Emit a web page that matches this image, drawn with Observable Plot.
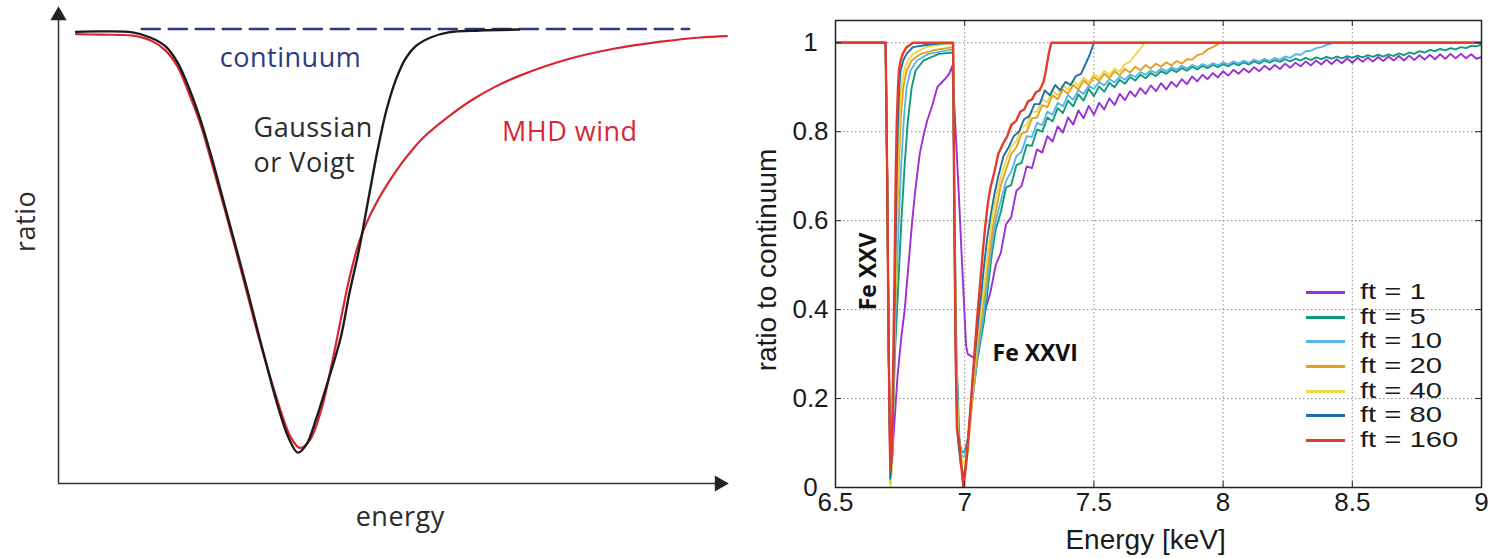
<!DOCTYPE html>
<html><head><meta charset="utf-8">
<script src="https://cdn.jsdelivr.net/npm/d3@7"></script>
<script src="https://cdn.jsdelivr.net/npm/@observablehq/plot@0.6"></script>
<style>
body{margin:0;background:#fff;}
#wrap{position:relative;width:1492px;height:558px;overflow:hidden;background:#fff;}
#left{position:absolute;left:0;top:0;}
#right{position:absolute;left:740px;top:0;}
#legend{position:absolute;left:1306px;top:280px;font-family:"Liberation Sans",Arial,sans-serif;font-size:21.5px;color:#1a1a1a;}
.row{display:flex;align-items:center;height:24.7px;line-height:24.7px;white-space:nowrap;}
.sw{width:39px;height:3px;margin-right:15px;flex:none;}
.lab{display:inline-block;transform:scaleX(1.36);transform-origin:0 50%;}
</style></head><body>
<div id="wrap"><div id="left"></div><div id="right"></div><div id="legend"></div></div>
<script>
// ---------- Left panel (schematic) ----------
const schematicDomain = [0, 100];
const gaussianProfile = [[2.65,96.5],[6.35,96.6],[11.2,96.4],[13.9,95.3],[16.2,93.4],[18.0,90.0],[19.8,84.3],[21.5,77.6],[23.3,69.0],[25.1,59.6],[26.9,50.2],[28.7,40.6],[30.4,31.2],[31.9,23.1],[33.3,16.0],[34.8,9.8],[36.2,6.6],[37.5,8.3],[39.0,13.9],[40.8,22.0],[42.7,31.2],[44.0,40.6],[45.5,50.2],[46.9,60.9],[48.3,71.4],[49.6,79.7],[51.1,86.5],[52.5,90.8],[54.0,93.4],[56.3,95.3],[59.0,96.4],[63.8,96.8],[69.7,97.0]];
const windProfile = [[2.65,96.0],[6.35,95.9],[11.2,95.7],[13.9,94.7],[16.2,92.5],[18.0,89.1],[19.7,83.5],[21.5,76.7],[23.3,67.9],[25.1,58.8],[26.9,49.4],[28.7,39.7],[30.4,30.6],[32.1,22.4],[33.6,15.6],[35.1,10.0],[36.5,7.6],[38.0,9.2],[39.8,16.0],[41.3,25.2],[42.7,35.0],[44.0,43.8],[45.5,51.7],[46.9,56.6],[48.3,60.5],[50.1,64.7],[51.9,68.4],[53.7,71.6],[55.4,74.2],[59.0,78.4],[62.6,82.0],[66.1,84.8],[69.7,87.1],[76.9,90.6],[84.0,92.9],[91.1,94.4],[97.1,95.3],[101.1,95.6]];
const continuumLine = [[12.6,97.1],[95.4,97.1]];

// ---------- Right panel (spectra) ----------
const ftLabels = ["ft = 1","ft = 5","ft = 10","ft = 20","ft = 40","ft = 80","ft = 160"];
const ftColors = ["#9a2fd6","#0f9a78","#5ab6e6","#e3a020","#ecd84a","#1d6fa8","#e33b2c"];
const xTicks = [6.5,7,7.5,8,8.5,9];
const xTickLabels = ["6.5","7","7.5","8","8.5","9"];
const yTicks = [0,0.2,0.4,0.6,0.8,1];
const yTickLabels = ["0","0.2","0.4","0.6","0.8","1"];
const xGrid = [7,7.5,8,8.5];
const yGrid = [0.2,0.4,0.6,0.8,1];

const ft1 = [[6.5,1],[6.694,1],[6.700,0.7],[6.706,0.3],[6.713,0.01],[6.725,0.12],[6.74,0.25],[6.755,0.34],[6.768,0.4],[6.775,0.45],[6.786,0.525],[6.797,0.6],[6.81,0.675],[6.826,0.75],[6.84,0.79],[6.855,0.825],[6.875,0.86],[6.894,0.9],[6.91,0.91],[6.926,0.92],[6.94,0.93],[6.952,0.948],[6.965,0.8],[6.978,0.65],[6.99,0.5],[6.997,0.42],[7.005,0.32],[7.012,0.3],[7.04,0.29],[7.055,0.33],[7.07,0.374],[7.085,0.41],[7.10,0.44],[7.12,0.50],[7.14,0.528],[7.16,0.592],[7.18,0.608],[7.20,0.667],[7.22,0.678],[7.24,0.722],[7.26,0.718],[7.28,0.76],[7.30,0.753],[7.32,0.79],[7.34,0.778],[7.36,0.812],[7.38,0.798],[7.40,0.832],[7.42,0.816],[7.44,0.848],[7.46,0.83],[7.48,0.858],[7.50,0.838],[7.52,0.865],[7.54,0.85],[7.56,0.875],[7.58,0.86],[7.60,0.885],[7.62,0.871],[7.64,0.891],[7.66,0.879],[7.68,0.898],[7.70,0.885],[7.72,0.904],[7.74,0.891],[7.76,0.909],[7.78,0.895],[7.80,0.912],[7.82,0.901],[7.84,0.918],[7.86,0.907],[7.88,0.924],[7.90,0.913],[7.92,0.928],[7.94,0.918],[7.96,0.932],[7.98,0.922],[8.00,0.936],[8.02,0.926],[8.04,0.939],[8.06,0.93],[8.08,0.942],[8.10,0.933],[8.12,0.945],[8.14,0.936],[8.16,0.948],[8.18,0.939],[8.20,0.95],[8.22,0.941],[8.24,0.953],[8.26,0.944],[8.28,0.955],[8.30,0.947],[8.32,0.958],[8.34,0.949],[8.36,0.96],[8.38,0.951],[8.40,0.962],[8.42,0.952],[8.44,0.963],[8.46,0.954],[8.48,0.965],[8.50,0.955],[8.52,0.966],[8.54,0.957],[8.56,0.967],[8.58,0.958],[8.60,0.968],[8.62,0.959],[8.64,0.969],[8.66,0.96],[8.68,0.97],[8.70,0.96],[8.72,0.971],[8.74,0.961],[8.76,0.972],[8.78,0.962],[8.80,0.973],[8.82,0.963],[8.84,0.974],[8.86,0.964],[8.88,0.975],[8.90,0.965],[8.92,0.975],[8.94,0.965],[8.96,0.974],[8.98,0.964],[9.0,0.968]];
const ft5 = [[6.5,1],[6.694,1],[6.700,0.7],[6.706,0.3],[6.713,0.05],[6.72,0.1],[6.73,0.3],[6.74,0.42],[6.755,0.6],[6.767,0.72],[6.78,0.825],[6.795,0.9],[6.81,0.937],[6.84,0.96],[6.9,0.975],[6.955,0.978],[6.96,0.65],[6.968,0.3],[6.98,0.1],[6.99,0.08],[7.0,0.08],[7.012,0.11],[7.03,0.2],[7.05,0.29],[7.075,0.375],[7.09,0.45],[7.105,0.525],[7.12,0.58],[7.14,0.62],[7.16,0.675],[7.18,0.68],[7.20,0.725],[7.22,0.73],[7.24,0.77],[7.26,0.768],[7.28,0.805],[7.30,0.8],[7.32,0.832],[7.34,0.823],[7.36,0.853],[7.38,0.842],[7.40,0.87],[7.42,0.857],[7.44,0.884],[7.46,0.87],[7.48,0.896],[7.50,0.88],[7.52,0.902],[7.54,0.89],[7.56,0.91],[7.58,0.9],[7.60,0.917],[7.62,0.908],[7.64,0.923],[7.66,0.915],[7.68,0.928],[7.70,0.92],[7.72,0.932],[7.74,0.925],[7.76,0.936],[7.78,0.93],[7.80,0.94],[7.82,0.934],[7.84,0.943],[7.86,0.937],[7.88,0.946],[7.90,0.94],[7.92,0.948],[7.94,0.943],[7.96,0.95],[7.98,0.945],[8.00,0.952],[8.02,0.947],[8.04,0.954],[8.06,0.949],[8.08,0.956],[8.10,0.951],[8.12,0.958],[8.14,0.953],[8.16,0.96],[8.18,0.955],[8.20,0.961],[8.22,0.957],[8.24,0.963],[8.26,0.958],[8.28,0.964],[8.30,0.96],[8.32,0.966],[8.34,0.961],[8.36,0.967],[8.38,0.963],[8.40,0.968],[8.42,0.964],[8.44,0.969],[8.46,0.965],[8.48,0.97],[8.50,0.966],[8.52,0.971],[8.54,0.967],[8.56,0.972],[8.58,0.968],[8.60,0.973],[8.62,0.969],[8.64,0.974],[8.66,0.97],[8.68,0.976],[8.70,0.972],[8.72,0.978],[8.74,0.975],[8.76,0.981],[8.78,0.978],[8.80,0.984],[8.82,0.981],[8.84,0.986],[8.86,0.983],[8.88,0.988],[8.90,0.985],[8.92,0.99],[8.94,0.988],[8.96,0.993],[8.98,0.992],[9.0,0.996]];
const ft10 = [[6.5,1],[6.694,1],[6.700,0.7],[6.706,0.3],[6.713,0.03],[6.72,0.08],[6.728,0.3],[6.735,0.45],[6.745,0.6],[6.754,0.72],[6.764,0.825],[6.775,0.9],[6.79,0.937],[6.815,0.96],[6.86,0.975],[6.955,0.985],[6.96,0.65],[6.967,0.3],[6.978,0.1],[6.99,0.07],[7.0,0.07],[7.012,0.1],[7.03,0.2],[7.05,0.3],[7.07,0.375],[7.085,0.45],[7.10,0.525],[7.12,0.6],[7.14,0.645],[7.16,0.69],[7.18,0.71],[7.20,0.745],[7.22,0.755],[7.24,0.79],[7.26,0.788],[7.28,0.82],[7.30,0.815],[7.32,0.845],[7.34,0.838],[7.36,0.865],[7.38,0.857],[7.40,0.882],[7.42,0.872],[7.44,0.893],[7.46,0.885],[7.48,0.903],[7.50,0.896],[7.52,0.912],[7.54,0.904],[7.56,0.918],[7.58,0.911],[7.60,0.924],[7.62,0.917],[7.64,0.929],[7.66,0.923],[7.68,0.934],[7.70,0.928],[7.72,0.938],[7.74,0.932],[7.76,0.942],[7.78,0.936],[7.80,0.945],[7.82,0.939],[7.84,0.948],[7.86,0.942],[7.88,0.95],[7.90,0.945],[7.92,0.952],[7.94,0.947],[7.96,0.954],[7.98,0.949],[8.00,0.956],[8.02,0.951],[8.04,0.958],[8.06,0.953],[8.08,0.96],[8.10,0.955],[8.12,0.962],[8.14,0.957],[8.16,0.964],[8.18,0.959],[8.20,0.966],[8.22,0.962],[8.24,0.969],[8.26,0.966],[8.28,0.974],[8.30,0.973],[8.32,0.981],[8.34,0.982],[8.36,0.988],[8.38,0.99],[8.40,0.995],[8.43,1],[9,1]];
const ft20 = [[6.5,1],[6.694,1],[6.700,0.7],[6.706,0.3],[6.713,0.01],[6.72,0.06],[6.727,0.3],[6.733,0.45],[6.739,0.6],[6.745,0.72],[6.752,0.825],[6.762,0.9],[6.775,0.937],[6.795,0.96],[6.83,0.975],[6.88,0.983],[6.955,0.99],[6.96,0.65],[6.966,0.3],[6.975,0.1],[6.99,0.04],[7.0,0.03],[7.012,0.08],[7.03,0.2],[7.05,0.32],[7.066,0.39],[7.08,0.45],[7.094,0.52],[7.11,0.59],[7.125,0.635],[7.14,0.68],[7.16,0.715],[7.18,0.75],[7.20,0.765],[7.22,0.795],[7.24,0.8],[7.26,0.83],[7.28,0.832],[7.30,0.86],[7.32,0.855],[7.34,0.882],[7.36,0.873],[7.38,0.895],[7.40,0.885],[7.42,0.905],[7.44,0.895],[7.46,0.915],[7.48,0.905],[7.50,0.923],[7.52,0.914],[7.54,0.93],[7.56,0.921],[7.58,0.936],[7.60,0.927],[7.62,0.941],[7.64,0.933],[7.66,0.946],[7.68,0.938],[7.70,0.95],[7.72,0.942],[7.74,0.953],[7.76,0.946],[7.78,0.956],[7.80,0.949],[7.82,0.959],[7.84,0.953],[7.86,0.963],[7.88,0.962],[7.90,0.972],[7.92,0.975],[7.94,0.985],[7.96,0.99],[7.99,1],[9,1]];
const ft40 = [[6.5,1],[6.694,1],[6.700,0.7],[6.706,0.3],[6.713,0.0],[6.72,0.06],[6.727,0.3],[6.732,0.45],[6.737,0.6],[6.742,0.72],[6.747,0.825],[6.755,0.9],[6.765,0.937],[6.78,0.96],[6.80,0.975],[6.85,0.99],[6.90,0.995],[6.955,0.998],[6.96,0.65],[6.966,0.3],[6.975,0.12],[6.99,0.06],[7.0,0.05],[7.012,0.1],[7.03,0.22],[7.05,0.34],[7.064,0.4],[7.077,0.46],[7.09,0.53],[7.105,0.6],[7.12,0.65],[7.14,0.7],[7.16,0.735],[7.18,0.765],[7.20,0.78],[7.22,0.81],[7.24,0.815],[7.26,0.845],[7.28,0.845],[7.30,0.872],[7.32,0.866],[7.34,0.892],[7.36,0.882],[7.38,0.905],[7.40,0.895],[7.42,0.915],[7.44,0.903],[7.46,0.922],[7.48,0.91],[7.50,0.93],[7.52,0.92],[7.54,0.937],[7.56,0.928],[7.58,0.942],[7.60,0.935],[7.62,0.952],[7.64,0.958],[7.66,0.972],[7.68,0.987],[7.697,1],[9,1]];
const ft80 = [[6.5,1],[6.694,1],[6.700,0.7],[6.706,0.3],[6.712,0.02],[6.72,0.08],[6.726,0.3],[6.73,0.45],[6.734,0.6],[6.738,0.73],[6.742,0.825],[6.747,0.9],[6.752,0.937],[6.762,0.96],[6.775,0.975],[6.80,0.99],[6.85,0.995],[6.9,0.998],[6.955,1],[6.96,0.6],[6.965,0.3],[6.972,0.12],[6.985,0.05],[6.998,0.02],[7.01,0.08],[7.025,0.2],[7.04,0.3],[7.055,0.39],[7.065,0.44],[7.075,0.5],[7.087,0.56],[7.10,0.61],[7.115,0.66],[7.13,0.7],[7.15,0.745],[7.17,0.765],[7.19,0.79],[7.21,0.8],[7.23,0.828],[7.25,0.835],[7.27,0.862],[7.29,0.862],[7.31,0.893],[7.33,0.882],[7.35,0.905],[7.37,0.893],[7.39,0.912],[7.41,0.905],[7.43,0.925],[7.45,0.93],[7.47,0.955],[7.485,0.975],[7.5,1],[9,1]];
const ft160 = [[6.5,1],[6.694,1],[6.700,0.7],[6.706,0.3],[6.712,0.04],[6.718,0.08],[6.724,0.3],[6.729,0.5],[6.733,0.7],[6.737,0.82],[6.742,0.9],[6.746,0.94],[6.752,0.96],[6.76,0.975],[6.775,0.99],[6.80,1],[6.955,1],[6.960,0.6],[6.965,0.3],[6.970,0.13],[6.978,0.11],[6.985,0.06],[6.995,0.0],[7.005,0.05],[7.02,0.16],[7.035,0.28],[7.048,0.38],[7.06,0.46],[7.07,0.53],[7.08,0.59],[7.09,0.64],[7.10,0.675],[7.115,0.71],[7.13,0.75],[7.15,0.775],[7.165,0.79],[7.18,0.815],[7.20,0.825],[7.215,0.845],[7.23,0.85],[7.245,0.868],[7.26,0.872],[7.275,0.888],[7.29,0.893],[7.305,0.912],[7.315,0.94],[7.325,0.975],[7.335,1],[9,1]];
const ftSeries = [ft1, ft5, ft10, ft20, ft40, ft80, ft160];

// ---------- Build left ----------
const P = d => d[0], Q = d => d[1];
const leftText = {fill: "#2b2b2b", fontSize: 27, clip: false};
const left = Plot.plot({
  width: 740, height: 558,
  marginLeft: 58, marginRight: 21, marginTop: 15, marginBottom: 75,
  x: {domain: schematicDomain, axis: null},
  y: {domain: schematicDomain, axis: null},
  style: {fontFamily: "'Open Sans', sans-serif", background: "white", letterSpacing: "0.5px"},
  marks: [
    Plot.ruleY([schematicDomain[0]], {stroke: "#333", strokeWidth: 1.5}),
    Plot.ruleX([schematicDomain[0]], {stroke: "#333", strokeWidth: 1.5}),
    Plot.dot([[schematicDomain[0], schematicDomain[1]]], {x: P, y: Q, symbol: "triangle", r: 6, fill: "#222", stroke: "none"}),
    Plot.dot([[schematicDomain[1], schematicDomain[0]]], {x: P, y: Q, symbol: "triangle", r: 6, rotate: 90, fill: "#222", stroke: "none"}),
    Plot.line(continuumLine, {x: P, y: Q, stroke: "#2d3a80", strokeWidth: 2.6, strokeDasharray: "18,9"}),
    Plot.line(windProfile, {x: P, y: Q, stroke: "#d8262f", strokeWidth: 2.2, curve: "catmull-rom"}),
    Plot.line(gaussianProfile, {x: P, y: Q, stroke: "#1c1c1c", strokeWidth: 2.4, curve: "catmull-rom"}),
    Plot.text(["continuum"], {...leftText, x: 35.1, y: 90.9, fill: "#2d3a80"}),
    Plot.text(["Gaussian"], {...leftText, x: 29.5, y: 75.8, textAnchor: "start"}),
    Plot.text(["or Voigt"], {...leftText, x: 29.5, y: 68.3, textAnchor: "start"}),
    Plot.text(["MHD wind"], {...leftText, x: 67.1, y: 75.1, textAnchor: "start", fill: "#d42a33"}),
    Plot.text(["energy"], {...leftText, x: 51.7, y: -7.2}),
    Plot.text(["ratio"], {...leftText, x: -4.8, y: 56.0, rotate: -90})
  ]
});
document.getElementById("left").appendChild(left);

// ---------- Build right ----------
const xFmt = new Map(xTicks.map((t, i) => [t, xTickLabels[i]]));
const yFmt = new Map(yTicks.map((t, i) => [t, yTickLabels[i]]));
const gridStyle = {stroke: "#8a8a8a", strokeWidth: 1, strokeDasharray: "1.5,2.5"};
const right = Plot.plot({
  width: 752, height: 558,
  marginLeft: 95, marginRight: 11, marginTop: 20, marginBottom: 71,
  x: {domain: [6.5, 9]},
  y: {domain: [0, 1.05]},
  style: {fontFamily: "'Liberation Sans', Arial, sans-serif", background: "white", color: "#1a1a1a"},
  marks: [
    Plot.ruleX(xGrid, gridStyle),
    Plot.ruleY(yGrid, gridStyle),
    ...ftSeries.map((s, i) => Plot.line(s, {x: P, y: Q, stroke: ftColors[i], strokeWidth: i === 6 ? 2.4 : 1.9, clip: true})),
    Plot.tickX(xTicks, {x: d => d, insetTop: 461, stroke: "#222"}),
    Plot.tickX(xTicks, {x: d => d, insetBottom: 461, stroke: "#222"}),
    Plot.tickY(yTicks, {y: d => d, insetRight: 640, stroke: "#222"}),
    Plot.tickY(yTicks, {y: d => d, insetLeft: 640, stroke: "#222"}),
    Plot.frame({stroke: "#222", strokeWidth: 1.5}),
    Plot.axisX(xTicks, {anchor: "bottom", tickSize: 0, tickPadding: 5, fontSize: 26, tickFormat: d => xFmt.get(d), label: null}),
    Plot.axisY(yTicks, {anchor: "left", tickSize: 0, tickPadding: 25, textAnchor: "middle", fontSize: 26, tickFormat: d => yFmt.get(d), label: null}),
    Plot.text(["ratio to continuum"], {x: 6.2368, y: 0.5115, rotate: -90, fontSize: 28, fill: "#1a1a1a", clip: false}),
    Plot.text(["Energy [keV]"], {x: 7.70, y: -0.119, fontSize: 28, fill: "#1a1a1a", clip: false}),
    Plot.text(["Fe XXV"], {x: 6.628, y: 0.486, rotate: -90, fontSize: 23, fontWeight: "bold", fontFamily: "'Open Sans', sans-serif", fill: "#111"}),
    Plot.text(["Fe XXVI"], {x: 7.1076, y: 0.302, textAnchor: "start", fontSize: 23, fontWeight: "bold", fontFamily: "'Open Sans', sans-serif", fill: "#111"})
  ]
});
document.getElementById("right").appendChild(right);

// ---------- Legend ----------
const legend = d3.select("#legend");
ftLabels.forEach((lab, i) => {
  const row = legend.append("div").attr("class", "row");
  row.append("div").attr("class", "sw").style("background", ftColors[i]);
  row.append("span").attr("class", "lab").text(lab);
});
</script></body></html>
